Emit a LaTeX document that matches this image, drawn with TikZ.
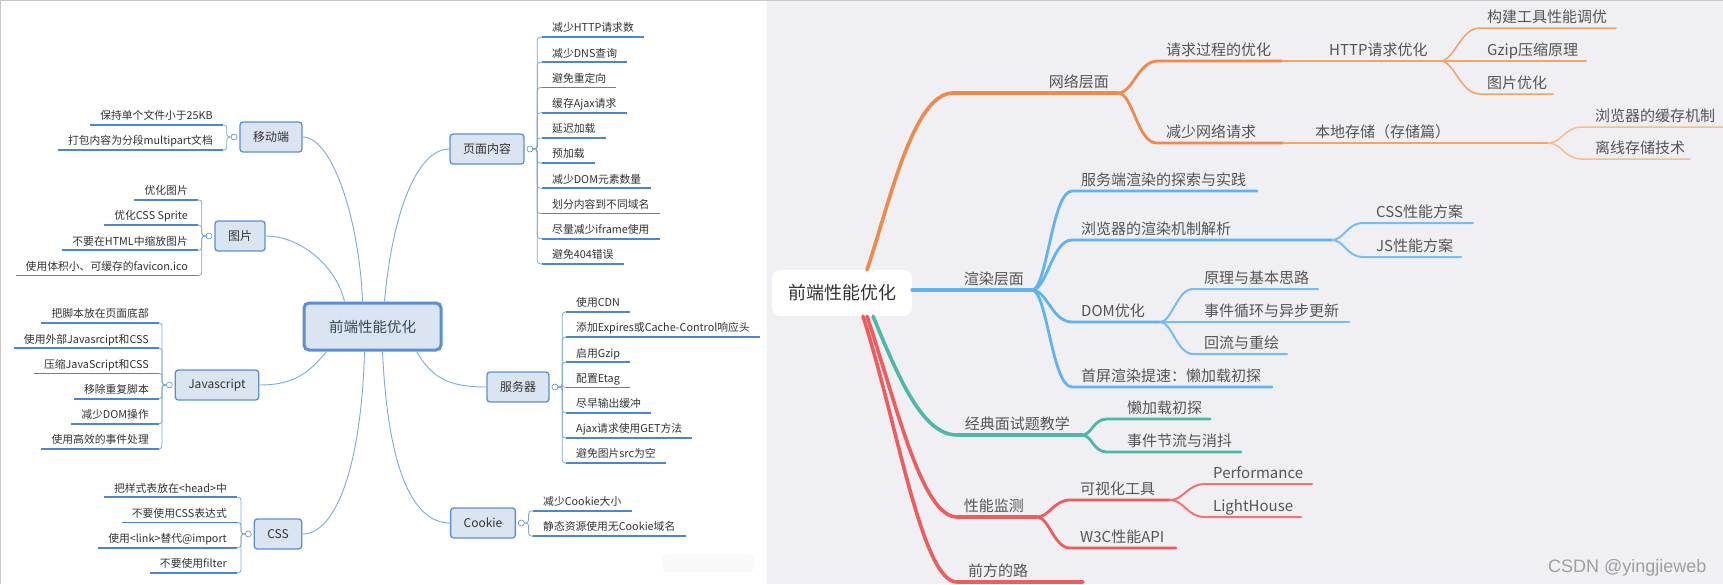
\documentclass[tikz,border=0pt]{standalone}
\usepackage{fontspec}
\setmainfont{Noto Sans CJK SC}
\newfontfamily\wmfont{Liberation Sans}
\usetikzlibrary{positioning}

\definecolor{boxfill}{HTML}{DBE5F2}
\definecolor{boxline}{HTML}{5B8FD3}
\definecolor{leafblue}{HTML}{4F86C8}
\definecolor{linkblue}{HTML}{80A8DB}
\definecolor{lefttext}{HTML}{333333}
\definecolor{maintext}{HTML}{34495E}
\definecolor{panelbg}{HTML}{F0EFF4}
\definecolor{righttext}{HTML}{555555}
\definecolor{framegray}{HTML}{C8C8C8}
\definecolor{netA}{HTML}{F08A4B}
\definecolor{netB}{HTML}{F3A368}
\definecolor{netC}{HTML}{F6BD8D}
\definecolor{rendA}{HTML}{5FB3F2}
\definecolor{rendB}{HTML}{75BDF4}
\definecolor{examA}{HTML}{4DB8A8}
\definecolor{monA}{HTML}{EE5C5C}
\definecolor{monB}{HTML}{F07474}

\begin{document}
\begin{tikzpicture}[
    x=1pt, y=-1pt,
    mainbox/.style={
        draw=boxline,
        fill=boxfill,
        line width=3pt,
        rounded corners=5pt,
        minimum width=137pt,
        minimum height=47pt,
        font=\fontsize{14.5}{16}\selectfont,
        text=maintext
    },
    branchbox/.style={
        draw=boxline,
        fill=boxfill,
        line width=1.3pt,
        rounded corners=3pt,
        minimum height=30pt,
        inner xsep=13pt,
        font=\fontsize{12}{14}\selectfont,
        text=lefttext
    },
    knob/.style={circle, draw=boxline, fill=white, line width=0.6pt, inner sep=0pt, minimum size=6pt},
    leaf/.style={inner xsep=10pt, inner ysep=5pt, text depth=0pt, font=\fontsize{10.8}{12}\selectfont, text=lefttext},
    leafline/.style={draw=leafblue, line width=1.8pt},
    brace/.style={draw=linkblue, line width=0.8pt, rounded corners=3pt},
    link/.style={draw=linkblue, line width=0.9pt},
    rootbox/.style={
        fill=white,
        rounded corners=8pt,
        minimum width=140pt,
        minimum height=46pt,
        font=\fontsize{18}{20}\selectfont,
        text=lefttext
    },
    topic/.style={inner xsep=0pt, inner ysep=5pt, text depth=0pt, anchor=south west, font=\fontsize{15}{17}\selectfont, text=righttext},
    lvA/.style={line width=3.6pt, line cap=round},
    lvB/.style={line width=2.8pt, line cap=round},
    lvC/.style={line width=2pt, line cap=round},
    lvD/.style={line width=1.5pt, line cap=round},
    wm/.style={anchor=base west, inner sep=0pt, font=\wmfont\fontsize{18}{20}\selectfont, text=gray!75}
]

    \useasboundingbox (0,0) rectangle (1723,584);
    \fill[white] (0,0) rectangle (767,584);
    \fill[panelbg] (767,0) rectangle (1723,584);
    \draw[framegray, line width=1.2pt] (0.6,584) -- (0.6,0.6) -- (1723,0.6);
    \fill[gray!5, rounded corners=6pt] (662,554) rectangle (754,572);

    % left map: boxes
    \node[mainbox] (main) at (372.5,326.5) {前端性能优化};
    \node[branchbox] (mob) at (271,137) {移动端};
    \node[branchbox] (img) at (240,236) {图片};
    \node[branchbox] (js) at (217,385) {Javascript};
    \node[branchbox] (css) at (278,534) {CSS};
    \node[branchbox] (page) at (487,149) {页面内容};
    \node[branchbox] (srv) at (518,387) {服务器};
    \node[branchbox] (ck) at (483,523) {Cookie};

    \node[knob, left=2pt of mob] (mob-k) {};
    \node[knob, left=2pt of img] (img-k) {};
    \node[knob, left=2pt of js] (js-k) {};
    \node[knob, left=2pt of css] (css-k) {};
    \node[knob, right=2pt of page] (page-k) {};
    \node[knob, right=2pt of srv] (srv-k) {};
    \node[knob, right=2pt of ck] (ck-k) {};

    % left map: links
    \draw[link] ([xshift=-10pt]main.north) .. controls +(-3,-80) and +(30,0) .. (mob.east);
    \draw[link] ([xshift=-28pt]main.north) .. controls +(-8,-35) and +(35,0) .. (img.east);
    \draw[link] ([xshift=12pt]main.north) .. controls +(8,-90) and +(-32,0) .. (page.west);
    \draw[link] ([xshift=-46pt]main.south) .. controls +(-20,25) and +(30,0) .. (js.east);
    \draw[link] ([xshift=-8pt]main.south) .. controls +(-3,110) and +(35,0) .. (css.east);
    \draw[link] ([xshift=10pt]main.south) .. controls +(5,110) and +(-40,0) .. (ck.west);
    \draw[link] ([xshift=44pt]main.south) .. controls +(15,25) and +(-40,0) .. (srv.west);

    % left map: leaves
    \foreach \t [count=\i] in {保持单个文件小于25KB, 打包内容为分段multipart文档}{
        \node[leaf, anchor=south east] (mob-\i) at (223, {137.5+(\i-1.5)*25.2}) {\t};
        \draw[leafline] (mob-\i.south west) -- (mob-\i.south east);
        \draw[brace] (mob-k.west) -- ++(-4,0) |- (mob-\i.south east);
    }
    \foreach \t [count=\i] in {优化图片, 优化CSS Sprite, 不要在HTML中缩放图片, 使用体积小、可缓存的favicon.ico}{
        \node[leaf, anchor=south east] (img-\i) at (198, {237.7+(\i-2.5)*25.2}) {\t};
        \draw[leafline] (img-\i.south west) -- (img-\i.south east);
        \draw[brace] (img-k.west) -- ++(-4,0) |- (img-\i.south east);
    }
    \foreach \t [count=\i] in {把脚本放在页面底部, 使用外部Javasrcipt和CSS, 压缩JavaScript和CSS, 移除重复脚本, 减少DOM操作, 使用高效的事件处理}{
        \node[leaf, anchor=south east] (js-\i) at (159, {386+(\i-3.5)*25.2}) {\t};
        \draw[leafline] (js-\i.south west) -- (js-\i.south east);
        \draw[brace] (js-k.west) -- ++(-4,0) |- (js-\i.south east);
    }
    \foreach \t [count=\i] in {把样式表放在<head>中, 不要使用CSS表达式, 使用<link>替代@import, 不要使用filter}{
        \node[leaf, anchor=south east] (css-\i) at (237, {535+(\i-2.5)*25.2}) {\t};
        \draw[leafline] (css-\i.south west) -- (css-\i.south east);
        \draw[brace] (css-k.west) -- ++(-4,0) |- (css-\i.south east);
    }
    \foreach \t [count=\i] in {减少HTTP请求数, 减少DNS查询, 避免重定向, 缓存Ajax请求, 延迟加载, 预加载, 减少DOM元素数量, 划分内容到不同域名, 尽量减少iframe使用, 避免404错误}{
        \node[leaf, anchor=south west] (page-\i) at (542, {150.5+(\i-5.5)*25.2}) {\t};
        \draw[leafline] (page-\i.south west) -- (page-\i.south east);
        \draw[brace] (page-k.east) -- ++(4,0) |- (page-\i.south west);
    }
    \foreach \t [count=\i] in {使用CDN, 添加Expires或Cache-Control响应头, 启用Gzip, 配置Etag, 尽早输出缓冲, Ajax请求使用GET方法, 避免图片src为空}{
        \node[leaf, anchor=south west] (srv-\i) at (566, {387.5+(\i-4)*25.2}) {\t};
        \draw[leafline] (srv-\i.south west) -- (srv-\i.south east);
        \draw[brace] (srv-k.east) -- ++(4,0) |- (srv-\i.south west);
    }
    \foreach \t [count=\i] in {减少Cookie大小, 静态资源使用无Cookie域名}{
        \node[leaf, anchor=south west] (ck-\i) at (533, {523.5+(\i-1.5)*25.2}) {\t};
        \draw[leafline] (ck-\i.south west) -- (ck-\i.south east);
        \draw[brace] (ck-k.east) -- ++(4,0) |- (ck-\i.south west);
    }

    % right map
    \node[rootbox] (root) at (842,293) {前端性能优化};

    % network
    \node[topic, anchor=south east] (net) at (1109,93) {网络层面};
    \coordinate (net-s) at (953,93);
    \coordinate (net-e) at (1118,93);
    \draw[lvA, netA] ([xshift=25pt]root.north) .. controls +(22,-65) and +(-40,0) .. (net-s) -- (net-e);

    \node[topic] (req) at (1166,61) {请求过程的优化};
    \coordinate (req-s) at (1158,61);
    \coordinate (req-e) at (1282,61);
    \draw[lvB, netA] (net-e) .. controls +(15,0) and +(-20,0) .. (req-s) -- (req-e);

    \node[topic] (http) at (1329,61) {HTTP请求优化};
    \coordinate (http-e) at (1440,61);
    \draw[lvC, netB] (req-e) -- (http-e);

    \foreach \t/\y/\x [count=\i] in {构建工具性能调优/28/1616, Gzip压缩原理/61/1586, 图片优化/94/1553}{
        \node[topic] (http-\i) at (1487,\y) {\t};
        \coordinate (http-\i-s) at (1480,\y);
        \coordinate (http-\i-e) at (\x,\y);
        \draw[lvD, netB] (http-e) .. controls +(15,0) and +(-20,0) .. (http-\i-s) -- (http-\i-e);
    }

    \node[topic] (less) at (1166,143) {减少网络请求};
    \coordinate (less-s) at (1157,143);
    \coordinate (less-e) at (1283,143);
    \draw[lvB, netA] (net-e) .. controls +(15,0) and +(-20,0) .. (less-s) -- (less-e);

    \node[topic] (store) at (1315,143) {本地存储（存储篇）};
    \coordinate (store-e) at (1548,143);
    \draw[lvC, netB] (less-e) -- (store-e);

    \foreach \t/\y/\x [count=\i] in {浏览器的缓存机制/127/1723, 离线存储技术/159/1690}{
        \node[topic] (store-\i) at (1595,\y) {\t};
        \coordinate (store-\i-s) at (1582,\y);
        \coordinate (store-\i-e) at (\x,\y);
        \draw[lvD, netC] (store-e) .. controls +(14,0) and +(-18,0) .. (store-\i-s) -- (store-\i-e);
    }

    % rendering
    \node[topic, anchor=south east] (rend) at (1024,290) {渲染层面};
    \coordinate (rend-e) at (1032,290);
    \draw[lvA, rendA] ([yshift=3pt]root.east) -- (rend-e);

    \foreach \t/\y/\x/\n in {服务端渲染的探索与实践/191/1257/ssr, 浏览器的渲染机制解析/240/1332/brw, DOM优化/322/1160/dom, 首屏渲染提速：懒加载初探/387/1272/fst}{
        \node[topic] (\n) at (1081,\y) {\t};
        \coordinate (\n-s) at (1072,\y);
        \coordinate (\n-e) at (\x,\y);
        \draw[lvB, rendA] (rend-e) .. controls +(15,0) and +(-20,0) .. (\n-s) -- (\n-e);
    }
    \foreach \t/\y/\x [count=\i] in {CSS性能方案/223/1473, JS性能方案/257/1461}{
        \node[topic] (brw-\i) at (1376,\y) {\t};
        \coordinate (brw-\i-s) at (1363,\y);
        \coordinate (brw-\i-e) at (\x,\y);
        \draw[lvC, rendB] (brw-e) .. controls +(12,0) and +(-16,0) .. (brw-\i-s) -- (brw-\i-e);
    }
    \foreach \t/\y/\x [count=\i] in {原理与基本思路/289/1318, 事件循环与异步更新/322/1349, 回流与重绘/354/1287}{
        \node[topic] (dom-\i) at (1204,\y) {\t};
        \coordinate (dom-\i-s) at (1193,\y);
        \coordinate (dom-\i-e) at (\x,\y);
        \draw[lvC, rendB] (dom-e) .. controls +(12,0) and +(-16,0) .. (dom-\i-s) -- (dom-\i-e);
    }

    % interview
    \node[topic, anchor=south east] (exam) at (1070,435) {经典面试题教学};
    \coordinate (exam-s) at (957,435);
    \coordinate (exam-e) at (1082,435);
    \draw[lvA, examA] ([xshift=31pt]root.south) .. controls +(25,60) and +(-35,0) .. (exam-s) -- (exam-e);
    \foreach \t/\y/\x [count=\i] in {懒加载初探/419/1210, 事件节流与消抖/452/1241}{
        \node[topic] (exam-\i) at (1127,\y) {\t};
        \coordinate (exam-\i-s) at (1107,\y);
        \coordinate (exam-\i-e) at (\x,\y);
        \draw[lvB, examA] (exam-e) .. controls +(10,0) and +(-14,0) .. (exam-\i-s) -- (exam-\i-e);
    }

    % monitoring
    \node[topic, anchor=south east] (mon) at (1024,517) {性能监测};
    \coordinate (mon-s) at (957,517);
    \coordinate (mon-e) at (1037,517);
    \draw[lvA, monA] ([xshift=25pt]root.south) .. controls +(30,90) and +(-35,0) .. (mon-s) -- (mon-e);
    \foreach \t/\y/\x/\n in {可视化工具/500/1170/vis, W3C性能API/548/1176/w3c}{
        \node[topic] (\n) at (1080,\y) {\t};
        \coordinate (\n-s) at (1070,\y);
        \coordinate (\n-e) at (\x,\y);
        \draw[lvB, monA] (mon-e) .. controls +(12,0) and +(-16,0) .. (\n-s) -- (\n-e);
    }
    \foreach \t/\y/\x [count=\i] in {Performance/484/1312, LightHouse/517/1301}{
        \node[topic] (vis-\i) at (1213,\y) {\t};
        \coordinate (vis-\i-s) at (1205,\y);
        \coordinate (vis-\i-e) at (\x,\y);
        \draw[lvC, monB] (vis-e) .. controls +(14,0) and +(-18,0) .. (vis-\i-s) -- (vis-\i-e);
    }

    \node[topic] (road) at (968,582) {前方的路};
    \coordinate (road-s) at (957,582);
    \coordinate (road-e) at (1083,582);
    \draw[lvA, monA] ([xshift=21pt]root.south) .. controls +(35,110) and +(-35,0) .. (road-s) -- (road-e);

    \node[wm] (mark) at (1548,572) {CSDN @yingjieweb};

\end{tikzpicture}
\end{document}
